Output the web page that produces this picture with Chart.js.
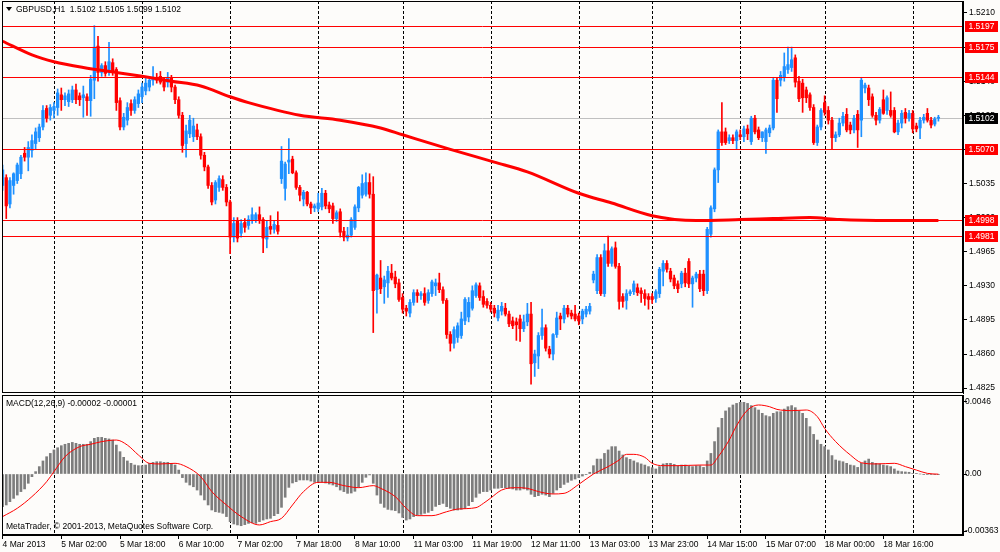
<!DOCTYPE html>
<html>
<head>
<meta charset="utf-8">
<title>GBPUSD,H1</title>
<script src="https://cdn.jsdelivr.net/npm/chart.js@4.4.1/dist/chart.umd.min.js"></script>
<style>
  html, body { margin: 0; padding: 0; background: #fdfcfa; }
  #wrap { position: relative; width: 1000px; height: 552px; background: #fdfcfa; overflow: hidden; }
  canvas { position: absolute; left: 0; }
  #main { top: 0; }
  #macd { top: 394px; }
</style>
</head>
<body>
<div id="wrap">
  <canvas id="main" width="1000" height="394"></canvas>
  <canvas id="macd" width="1000" height="158"></canvas>
</div>
<script>
// H1 candles, [open, high, low, close], bar 0 = 4 Mar 2013 10:00
const candles = [
  [1.5033,1.5054,1.5028,1.5049],[1.5041,1.5044,1.4999,1.5012],[1.5014,1.5041,1.5010,1.5038],[1.5033,1.5046,1.5024,1.5045],
  [1.5038,1.5056,1.5035,1.5054],[1.5045,1.5064,1.5040,1.5062],[1.5066,1.5072,1.5058,1.5062],[1.5062,1.5078,1.5048,1.5072],
  [1.5069,1.5085,1.5062,1.5079],[1.5076,1.5092,1.5070,1.5088],[1.5082,1.5096,1.5078,1.5093],[1.5093,1.5115,1.5090,1.5110],
  [1.5112,1.5115,1.5098,1.5102],[1.5105,1.5116,1.5100,1.5113],[1.5110,1.5118,1.5102,1.5114],[1.5113,1.5132,1.5105,1.5128],
  [1.5126,1.5133,1.5110,1.5121],[1.5121,1.5128,1.5115,1.5125],[1.5119,1.5131,1.5114,1.5127],[1.5121,1.5135,1.5118,1.5131],
  [1.5131,1.5137,1.5117,1.5121],[1.5125,1.5128,1.5115,1.5121],[1.5123,1.5135,1.5103,1.5126],[1.5124,1.5127,1.5105,1.5120],
  [1.5120,1.5146,1.5104,1.5142],[1.5141,1.5197,1.5122,1.5175],[1.5176,1.5186,1.5140,1.5149],[1.5149,1.5158,1.5145,1.5156],
  [1.5156,1.5160,1.5145,1.5148],[1.5149,1.5180,1.5146,1.5160],[1.5159,1.5163,1.5146,1.5150],[1.5152,1.5154,1.5110,1.5118],
  [1.5120,1.5123,1.5090,1.5093],[1.5093,1.5107,1.5090,1.5103],[1.5100,1.5118,1.5095,1.5113],[1.5117,1.5121,1.5105,1.5110],
  [1.5110,1.5124,1.5107,1.5121],[1.5117,1.5131,1.5113,1.5127],[1.5124,1.5138,1.5118,1.5134],[1.5130,1.5144,1.5126,1.5138],
  [1.5134,1.5145,1.5130,1.5141],[1.5141,1.5155,1.5136,1.5144],[1.5144,1.5148,1.5138,1.5141],[1.5145,1.5150,1.5137,1.5139],
  [1.5141,1.5143,1.5130,1.5134],[1.5139,1.5149,1.5134,1.5144],[1.5143,1.5146,1.5129,1.5134],[1.5134,1.5136,1.5117,1.5121],
  [1.5121,1.5124,1.5102,1.5105],[1.5105,1.5108,1.5067,1.5074],[1.5076,1.5095,1.5062,1.5089],[1.5086,1.5105,1.5082,1.5100],
  [1.5083,1.5102,1.5078,1.5094],[1.5090,1.5096,1.5080,1.5083],[1.5083,1.5086,1.5060,1.5064],[1.5064,1.5067,1.5048,1.5052],
  [1.5052,1.5054,1.5030,1.5033],[1.5033,1.5036,1.5013,1.5016],[1.5018,1.5038,1.5014,1.5036],[1.5031,1.5043,1.5027,1.5040],
  [1.5039,1.5043,1.5028,1.5031],[1.5031,1.5034,1.5012,1.5016],[1.5016,1.5018,1.4963,1.4980],[1.4980,1.5000,1.4975,1.4994],
  [1.4997,1.5000,1.4975,1.4979],[1.4984,1.4998,1.4980,1.4994],[1.4995,1.4999,1.4985,1.4990],[1.4992,1.5002,1.4988,1.4998],
  [1.4997,1.5010,1.4994,1.5003],[1.4998,1.5005,1.4995,1.5003],[1.5003,1.5011,1.4994,1.4998],[1.4998,1.5000,1.4964,1.4979],
  [1.4978,1.4997,1.4969,1.4990],[1.4991,1.5002,1.4983,1.4988],[1.4988,1.4997,1.4984,1.4993],[1.4992,1.5006,1.4983,1.4986],
  [1.5040,1.5073,1.5035,1.5058],[1.5030,1.5057,1.5018,1.5055],[1.5057,1.5081,1.5045,1.5059],[1.5060,1.5063,1.5045,1.5046],
  [1.5046,1.5048,1.5029,1.5031],[1.5031,1.5033,1.5017,1.5023],[1.5019,1.5028,1.5012,1.5026],[1.5026,1.5027,1.5012,1.5014],
  [1.5014,1.5016,1.5004,1.5010],[1.5010,1.5014,1.5006,1.5012],[1.5009,1.5025,1.5006,1.5015],[1.5011,1.5030,1.5008,1.5025],
  [1.5025,1.5028,1.5009,1.5012],[1.5013,1.5016,1.5005,1.5009],[1.5012,1.5015,1.4994,1.4999],[1.4999,1.5007,1.4996,1.5005],
  [1.5006,1.5009,1.4980,1.4985],[1.4986,1.4990,1.4976,1.4980],[1.4979,1.4990,1.4976,1.4982],[1.4982,1.5000,1.4980,1.4998],
  [1.4990,1.5013,1.4988,1.5011],[1.5010,1.5032,1.5006,1.5031],[1.5023,1.5044,1.5020,1.5035],[1.5024,1.5046,1.5022,1.5036],
  [1.5036,1.5045,1.5020,1.5024],[1.5024,1.5042,1.4882,1.4925],[1.4926,1.4942,1.4902,1.4941],[1.4938,1.4956,1.4922,1.4927],
  [1.4929,1.4940,1.4912,1.4936],[1.4933,1.4950,1.4918,1.4945],[1.4943,1.4952,1.4936,1.4938],[1.4939,1.4945,1.4928,1.4932],
  [1.4933,1.4937,1.4914,1.4916],[1.4918,1.4922,1.4902,1.4906],[1.4907,1.4910,1.4899,1.4904],[1.4902,1.4916,1.4898,1.4913],
  [1.4913,1.4926,1.4910,1.4923],[1.4923,1.4926,1.4913,1.4920],[1.4920,1.4924,1.4916,1.4922],[1.4922,1.4928,1.4910,1.4913],
  [1.4915,1.4926,1.4912,1.4923],[1.4922,1.4936,1.4919,1.4934],[1.4930,1.4937,1.4920,1.4933],[1.4933,1.4943,1.4923,1.4926],
  [1.4926,1.4929,1.4912,1.4915],[1.4915,1.4917,1.4876,1.4880],[1.4880,1.4883,1.4863,1.4871],[1.4871,1.4888,1.4866,1.4885],
  [1.4877,1.4892,1.4872,1.4889],[1.4879,1.4903,1.4876,1.4896],[1.4894,1.4918,1.4890,1.4916],[1.4898,1.4918,1.4893,1.4913],
  [1.4907,1.4930,1.4905,1.4925],[1.4920,1.4933,1.4918,1.4931],[1.4930,1.4933,1.4915,1.4918],[1.4919,1.4925,1.4908,1.4911],
  [1.4914,1.4917,1.4907,1.4910],[1.4910,1.4913,1.4903,1.4906],[1.4907,1.4910,1.4898,1.4902],[1.4897,1.4910,1.4894,1.4905],
  [1.4904,1.4913,1.4900,1.4909],[1.4907,1.4912,1.4899,1.4901],[1.4901,1.4904,1.4888,1.4891],[1.4894,1.4898,1.4886,1.4889],
  [1.4893,1.4897,1.4874,1.4890],[1.4896,1.4900,1.4873,1.4886],[1.4886,1.4900,1.4883,1.4893],[1.4893,1.4912,1.4889,1.4901],
  [1.4901,1.4913,1.4829,1.4850],[1.4851,1.4864,1.4837,1.4860],[1.4858,1.4882,1.4845,1.4879],[1.4879,1.4906,1.4875,1.4887],
  [1.4887,1.4890,1.4863,1.4866],[1.4865,1.4868,1.4856,1.4860],[1.4860,1.4881,1.4854,1.4880],[1.4880,1.4903,1.4877,1.4897],
  [1.4899,1.4902,1.4885,1.4896],[1.4896,1.4910,1.4892,1.4907],[1.4907,1.4910,1.4898,1.4901],[1.4902,1.4905,1.4896,1.4899],
  [1.4901,1.4910,1.4894,1.4896],[1.4899,1.4902,1.4890,1.4894],[1.4896,1.4906,1.4891,1.4904],[1.4901,1.4909,1.4898,1.4906],
  [1.4904,1.4912,1.4901,1.4909],[1.4936,1.4945,1.4933,1.4942],[1.4925,1.4962,1.4922,1.4959],[1.4959,1.4962,1.4920,1.4922],
  [1.4922,1.4973,1.4919,1.4966],[1.4966,1.4981,1.4950,1.4953],[1.4953,1.4970,1.4950,1.4968],[1.4969,1.4975,1.4948,1.4950],
  [1.4950,1.4953,1.4906,1.4914],[1.4919,1.4922,1.4908,1.4914],[1.4915,1.4926,1.4906,1.4922],[1.4922,1.4926,1.4920,1.4924],
  [1.4924,1.4935,1.4921,1.4932],[1.4928,1.4932,1.4920,1.4923],[1.4925,1.4928,1.4913,1.4922],[1.4922,1.4926,1.4910,1.4917],
  [1.4919,1.4922,1.4906,1.4916],[1.4919,1.4922,1.4912,1.4916],[1.4917,1.4926,1.4913,1.4924],[1.4922,1.4949,1.4918,1.4947],
  [1.4945,1.4956,1.4930,1.4953],[1.4953,1.4956,1.4944,1.4947],[1.4945,1.4948,1.4934,1.4937],[1.4938,1.4941,1.4927,1.4930],
  [1.4932,1.4935,1.4923,1.4927],[1.4932,1.4945,1.4928,1.4943],[1.4943,1.4948,1.4929,1.4933],[1.4955,1.4958,1.4928,1.4932],
  [1.4932,1.4940,1.4908,1.4938],[1.4938,1.4944,1.4934,1.4942],[1.4942,1.4946,1.4924,1.4927],[1.4942,1.4946,1.4920,1.4925],
  [1.4925,1.4990,1.4922,1.4988],[1.4983,1.5012,1.4980,1.5010],[1.5009,1.5051,1.5006,1.5049],[1.5049,1.5090,1.5036,1.5088],
  [1.5088,1.5118,1.5074,1.5077],[1.5088,1.5092,1.5075,1.5077],[1.5079,1.5085,1.5076,1.5082],[1.5082,1.5085,1.5076,1.5079],
  [1.5079,1.5090,1.5070,1.5088],[1.5085,1.5090,1.5080,1.5083],[1.5083,1.5094,1.5078,1.5091],[1.5091,1.5095,1.5080,1.5086],
  [1.5078,1.5104,1.5075,1.5102],[1.5102,1.5105,1.5086,1.5088],[1.5090,1.5093,1.5080,1.5082],[1.5082,1.5088,1.5078,1.5088],
  [1.5078,1.5092,1.5066,1.5090],[1.5087,1.5095,1.5083,1.5092],[1.5092,1.5144,1.5090,1.5141],[1.5141,1.5144,1.5108,1.5122],
  [1.5141,1.5150,1.5135,1.5146],[1.5144,1.5169,1.5140,1.5155],[1.5152,1.5175,1.5148,1.5157],[1.5154,1.5175,1.5150,1.5162],
  [1.5164,1.5167,1.5134,1.5139],[1.5140,1.5145,1.5119,1.5122],[1.5138,1.5142,1.5108,1.5123],[1.5131,1.5134,1.5118,1.5123],
  [1.5126,1.5128,1.5110,1.5113],[1.5113,1.5116,1.5075,1.5077],[1.5077,1.5095,1.5074,1.5093],[1.5093,1.5112,1.5090,1.5110],
  [1.5118,1.5125,1.5105,1.5108],[1.5110,1.5114,1.5096,1.5100],[1.5100,1.5103,1.5070,1.5082],[1.5082,1.5088,1.5078,1.5085],
  [1.5085,1.5102,1.5083,1.5097],[1.5097,1.5108,1.5094,1.5104],[1.5106,1.5112,1.5088,1.5090],[1.5095,1.5098,1.5086,1.5090],
  [1.5090,1.5105,1.5087,1.5102],[1.5106,1.5110,1.5072,1.5090],[1.5100,1.5144,1.5083,1.5141],[1.5133,1.5138,1.5128,1.5136],
  [1.5133,1.5136,1.5115,1.5121],[1.5124,1.5127,1.5103,1.5105],[1.5105,1.5108,1.5095,1.5100],[1.5100,1.5113,1.5097,1.5111],
  [1.5121,1.5131,1.5106,1.5107],[1.5110,1.5125,1.5106,1.5123],[1.5110,1.5129,1.5103,1.5105],[1.5110,1.5113,1.5087,1.5088],
  [1.5088,1.5100,1.5085,1.5097],[1.5097,1.5110,1.5092,1.5107],[1.5108,1.5112,1.5097,1.5102],[1.5102,1.5110,1.5099,1.5107],
  [1.5107,1.5110,1.5087,1.5091],[1.5094,1.5097,1.5088,1.5091],[1.5092,1.5103,1.5081,1.5100],[1.5100,1.5106,1.5097,1.5103],
  [1.5107,1.5112,1.5098,1.5100],[1.5100,1.5103,1.5092,1.5095],[1.5096,1.5103,1.5094,1.5101],[1.5102,1.5105,1.5099,1.5102]
];

// moving average (thick red line), read at these bars
const maBars = [0,8,14,22,31,38,46,54,62,67,81,92,103,109,122,134,143,157,166,177,189,201,210,220,228,242,255];
const maVals = [1.5181,1.5167,1.5160,1.5154,1.5149,1.5145,1.5140,1.5135,1.5124,1.5118,1.5105,1.5100,1.5092,1.5085,
                1.5070,1.5057,1.5047,1.5025,1.5015,1.5002,1.4997,1.4998,1.4999,1.5000,1.4998,1.4997,1.4997];

// MACD(12,26,9) histogram, one value per bar
const macdHist = [
  -0.00208,-0.00197,-0.00176,-0.00155,-0.00134,-0.00112,-0.00095,-0.00059,-0.00017,0.00015,
  0.00047,0.00083,0.00110,0.00131,0.00153,0.00167,0.00180,0.00189,0.00195,0.00201,
  0.00195,0.00189,0.00189,0.00189,0.00206,0.00227,0.00233,0.00233,0.00227,0.00223,
  0.00216,0.00184,0.00142,0.00106,0.00083,0.00068,0.00057,0.00053,0.00053,0.00057,
  0.00068,0.00074,0.00078,0.00078,0.00074,0.00074,0.00068,0.00057,0.00025,-0.00023,
  -0.00053,-0.00070,-0.00081,-0.00102,-0.00134,-0.00165,-0.00197,-0.00229,-0.00240,-0.00244,
  -0.00250,-0.00271,-0.00303,-0.00318,-0.00324,-0.00329,-0.00322,-0.00314,-0.00310,-0.00314,
  -0.00303,-0.00293,-0.00286,-0.00282,-0.00265,-0.00252,-0.00212,-0.00148,-0.00085,-0.00057,
  -0.00049,-0.00038,-0.00038,-0.00038,-0.00045,-0.00053,-0.00053,-0.00051,-0.00057,-0.00064,
  -0.00070,-0.00081,-0.00102,-0.00112,-0.00123,-0.00121,-0.00110,-0.00085,-0.00053,-0.00021,
  -0.00006,-0.00059,-0.00134,-0.00187,-0.00212,-0.00225,-0.00229,-0.00233,-0.00248,-0.00276,
  -0.00293,-0.00286,-0.00271,-0.00261,-0.00257,-0.00250,-0.00244,-0.00233,-0.00206,-0.00195,
  -0.00187,-0.00208,-0.00218,-0.00229,-0.00229,-0.00225,-0.00218,-0.00201,-0.00176,-0.00148,
  -0.00123,-0.00112,-0.00112,-0.00102,-0.00091,-0.00091,-0.00087,-0.00087,-0.00091,-0.00095,
  -0.00102,-0.00102,-0.00095,-0.00102,-0.00129,-0.00144,-0.00138,-0.00129,-0.00134,-0.00144,
  -0.00123,-0.00102,-0.00087,-0.00066,-0.00053,-0.00040,-0.00032,-0.00023,-0.00013,-0.00002,
  0.00011,0.00053,0.00095,0.00095,0.00131,0.00153,0.00174,0.00174,0.00146,0.00121,
  0.00104,0.00093,0.00083,0.00072,0.00064,0.00057,0.00047,0.00040,0.00032,0.00047,
  0.00064,0.00068,0.00068,0.00061,0.00053,0.00057,0.00057,0.00051,0.00047,0.00053,
  0.00053,0.00042,0.00083,0.00131,0.00206,0.00295,0.00354,0.00401,0.00422,0.00439,
  0.00449,0.00456,0.00456,0.00449,0.00435,0.00422,0.00407,0.00386,0.00371,0.00365,
  0.00386,0.00396,0.00396,0.00413,0.00428,0.00435,0.00422,0.00401,0.00386,0.00354,
  0.00301,0.00252,0.00216,0.00189,0.00174,0.00153,0.00117,0.00089,0.00083,0.00078,
  0.00068,0.00057,0.00053,0.00042,0.00068,0.00083,0.00095,0.00074,0.00068,0.00064,
  0.00057,0.00053,0.00047,0.00032,0.00019,0.00015,0.00013,0.00011,0.00004,0.00002,
  0.00000,-0.00002,-0.00004,-0.00004,-0.00004,-0.00002
];

// MACD signal line (red), read at these bars
const signalBars = [0,4,8,12,14,17,21,24,27,31,34,37,40,43,47,50,54,57,61,65,70,73,76,79,82,86,89,93,97,101,
                    103,107,110,113,117,121,124,129,131,133,136,140,143,146,150,153,157,161,165,168,170,172,175,177,180,184,190,193,195,198,
                    200,203,206,209,211,215,219,222,224,227,231,234,238,243,246,249,252,255];
const signalVals = [-0.00271,-0.00218,-0.00144,-0.00049,0.00015,0.00110,0.00174,0.00189,0.00206,0.00216,
                    0.00184,0.00121,0.00068,0.00064,0.00068,0.00047,-0.00017,-0.00112,-0.00197,-0.00271,
                    -0.00324,-0.00303,-0.00282,-0.00197,-0.00112,-0.00053,-0.00053,-0.00074,-0.00087,-0.00074,
                    -0.00091,-0.00144,-0.00218,-0.00265,-0.00265,-0.00240,-0.00223,-0.00214,-0.00187,-0.00153,
                    -0.00102,-0.00087,-0.00091,-0.00112,-0.00127,-0.00123,-0.00066,0.00000,0.00047,0.00089,
                    0.00125,0.00125,0.00106,0.00068,0.00053,0.00053,0.00057,0.00057,0.00110,0.00216,
                    0.00307,0.00407,0.00439,0.00428,0.00411,0.00403,0.00407,0.00365,0.00290,0.00206,
                    0.00121,0.00072,0.00064,0.00068,0.00047,0.00025,0.00004,-0.00001];

// axes
const timeLabelBars = [0,16,32,48,64,80,96,112,128,144,160,176,192,208,224,240];
const timeLabels = ['4 Mar 2013','5 Mar 02:00','5 Mar 18:00','6 Mar 10:00','7 Mar 02:00','7 Mar 18:00','8 Mar 10:00',
                    '11 Mar 03:00','11 Mar 19:00','12 Mar 11:00','13 Mar 03:00','13 Mar 23:00','14 Mar 15:00',
                    '15 Mar 07:00','18 Mar 00:00','18 Mar 16:00'];
const dayStartBars = [14,38,62,86,109,133,157,177,201,224,248];
const priceTicks = [1.4825,1.4860,1.4895,1.4930,1.4965,1.5000,1.5035,1.5070,1.5105,1.5140,1.5175,1.5210];
const macdTicks = [0.0046, 0, -0.00363];
const macdTickLabels = ['0.0046', '0.00', '-0.00363'];

// horizontal levels drawn on the chart, and the bid price
const levels = [1.5197, 1.5175, 1.5144, 1.5070, 1.4998, 1.4981];
const bidPrice = 1.5102;

const BULL = '#1e90ff';
const BEAR = '#ff0000';
const X_MIN = -0.16, X_MAX = 261.7;

function fontExists(name) {
  const c = document.createElement('canvas').getContext('2d');
  const probe = '1.5210 Mar 18:00';
  c.font = '40px monospace';
  const w0 = c.measureText(probe).width;
  c.font = '40px "' + name + '", monospace';
  return c.measureText(probe).width !== w0;
}
const narrow = fontExists('Liberation Sans Narrow');
const FAMILY = narrow ? '"Liberation Sans Narrow", "Liberation Sans", sans-serif' : '"Liberation Sans", Arial, sans-serif';
const FSIZE = narrow ? 10 : 8.5;
const FONT = FSIZE + 'px ' + FAMILY;

Chart.defaults.font.family = FAMILY;
Chart.defaults.font.size = FSIZE;
Chart.defaults.color = '#000';

function drawDayLines(chart) {
  const { ctx, chartArea: a, scales: { x } } = chart;
  ctx.save();
  ctx.strokeStyle = '#000';
  ctx.lineWidth = 1;
  ctx.setLineDash([3, 2]);
  dayStartBars.forEach(b => {
    const px = Math.round(x.getPixelForValue(b)) + 0.5;
    ctx.beginPath();
    ctx.moveTo(px, a.top);
    ctx.lineTo(px, a.bottom);
    ctx.stroke();
  });
  ctx.restore();
}

function drawFrame(chart) {
  const { ctx, chartArea: a } = chart;
  ctx.save();
  ctx.strokeStyle = '#000';
  ctx.lineWidth = 1;
  ctx.strokeRect(a.left + 0.5, a.top + 0.5, a.right - a.left - 1, a.bottom - a.top - 1);
  ctx.restore();
}

function priceBox(ctx, y, value, color) {
  ctx.fillStyle = color;
  ctx.fillRect(965, Math.round(y) - 5, 33, 11);
  ctx.fillStyle = '#fff';
  ctx.textAlign = 'center';
  ctx.textBaseline = 'middle';
  ctx.fillText(value.toFixed(4), 981.5, Math.round(y) + 0.5);
}

// keep the plot area exactly where the panel is: no extra room for end labels
function fixY(s) {
  s.width = 37;
  s.paddingTop = 0;
  s.paddingBottom = 0;
}

const mainDecor = {
  id: 'mainDecor',
  beforeDatasetsDraw(chart) {
    const { ctx, chartArea: a, scales: { y } } = chart;
    drawDayLines(chart);
    ctx.save();
    ctx.strokeStyle = '#c0c0c0';
    ctx.lineWidth = 1;
    const by = Math.round(y.getPixelForValue(bidPrice)) + 0.5;
    ctx.beginPath(); ctx.moveTo(a.left, by); ctx.lineTo(a.right, by); ctx.stroke();
    ctx.restore();
  },
  afterDatasetsDraw(chart) {
    const { ctx, chartArea: a, scales: { y } } = chart;
    ctx.save();
    ctx.strokeStyle = '#ff0000';
    ctx.lineWidth = 1;
    levels.forEach(v => {
      const py = Math.round(y.getPixelForValue(v)) + 0.5;
      ctx.beginPath(); ctx.moveTo(a.left, py); ctx.lineTo(a.right, py); ctx.stroke();
    });
    ctx.restore();
  },
  afterDraw(chart) {
    const { ctx, scales: { y } } = chart;
    drawFrame(chart);
    ctx.save();
    ctx.font = FONT;
    levels.forEach(v => priceBox(ctx, y.getPixelForValue(v), v, '#ff0000'));
    priceBox(ctx, y.getPixelForValue(bidPrice), bidPrice, '#000');

    // header: symbol and last bar OHLC
    const last = candles[candles.length - 1];
    ctx.fillStyle = '#000';
    ctx.beginPath();
    ctx.moveTo(6, 7); ctx.lineTo(12, 7); ctx.lineTo(9, 11); ctx.closePath(); ctx.fill();
    ctx.textAlign = 'left';
    ctx.textBaseline = 'middle';
    ctx.fillText('GBPUSD,H1  ' + last.map(v => v.toFixed(4)).join(' '), 16, 9.5);
    ctx.restore();
  }
};

const macdDecor = {
  id: 'macdDecor',
  beforeDatasetsDraw(chart) {
    drawDayLines(chart);
  },
  afterDraw(chart) {
    const { ctx } = chart;
    drawFrame(chart);
    ctx.save();
    ctx.font = FONT;
    ctx.fillStyle = '#000';
    ctx.textAlign = 'left';
    ctx.textBaseline = 'middle';
    const m = macdHist[macdHist.length - 1], s = signalVals[signalVals.length - 1];
    ctx.fillText('MACD(12,26,9) ' + m.toFixed(5) + ' ' + s.toFixed(5), 6, 10);
    ctx.fillText('MetaTrader, \u00a9 2001-2013, MetaQuotes Software Corp.', 6, 133);
    ctx.restore();
  }
};

const xScaleBase = { type: 'linear', min: X_MIN, max: X_MAX, offset: false, grid: { offset: false } };

new Chart(document.getElementById('main'), {
  type: 'bar',
  data: {
    datasets: [
      {
        type: 'line',
        data: maBars.map((b, k) => ({ x: b, y: maVals[k] })),
        borderColor: '#ff0000',
        borderWidth: 3,
        pointRadius: 0,
        cubicInterpolationMode: 'monotone',
        order: 0
      },
      {
        data: candles.map((c, i) => ({ x: i, y: [c[0], c[3]] })),
        backgroundColor: candles.map(c => c[3] >= c[0] ? BULL : BEAR),
        barThickness: 2.6,
        minBarLength: 1,
        grouped: false,
        order: 1
      },
      {
        data: candles.map((c, i) => ({ x: i, y: [c[2], c[1]] })),
        backgroundColor: candles.map(c => c[3] >= c[0] ? BULL : BEAR),
        barThickness: 1,
        grouped: false,
        order: 2
      }
    ]
  },
  options: {
    responsive: false,
    animation: false,
    events: [],
    layout: { padding: { left: 2, top: 1, bottom: 1, right: 0 } },
    plugins: { legend: { display: false }, tooltip: { enabled: false } },
    scales: {
      x: Object.assign({}, xScaleBase, { display: false }),
      y: {
        position: 'right',
        min: 1.4820,
        max: 1.52223,
        afterBuildTicks: s => { s.ticks = priceTicks.map(v => ({ value: v })); },
        afterFit: fixY,
        ticks: { padding: 2, callback: v => Number(v).toFixed(4), color: '#000' },
        grid: { drawOnChartArea: false, drawTicks: true, tickLength: 4, tickColor: '#000' },
        border: { display: true, color: '#000' }
      }
    }
  },
  plugins: [mainDecor]
});

new Chart(document.getElementById('macd'), {
  type: 'bar',
  data: {
    datasets: [
      {
        type: 'line',
        data: signalBars.map((b, k) => ({ x: b, y: signalVals[k] })),
        borderColor: '#ff0000',
        borderWidth: 1,
        pointRadius: 0,
        cubicInterpolationMode: 'monotone',
        order: 0
      },
      {
        data: macdHist.map((v, i) => ({ x: i, y: v })),
        backgroundColor: '#7d7d7d',
        barThickness: 2,
        grouped: false,
        order: 1
      }
    ]
  },
  options: {
    responsive: false,
    animation: false,
    events: [],
    layout: { padding: { left: 2, top: 1, bottom: 0, right: 0 } },
    plugins: { legend: { display: false }, tooltip: { enabled: false } },
    scales: {
      x: Object.assign({}, xScaleBase, {
        position: 'bottom',
        afterBuildTicks: s => { s.ticks = timeLabelBars.map(v => ({ value: v })); },
        afterFit: s => { s.height = 17; s.paddingLeft = 0; s.paddingRight = 0; },
        ticks: {
          autoSkip: false, maxRotation: 0, minRotation: 0, align: 'start', padding: 1,
          callback: (v, i) => timeLabels[i], color: '#000'
        },
        grid: { offset: false, drawOnChartArea: false, drawTicks: true, tickLength: 4, tickColor: '#000' },
        border: { display: true, color: '#000' }
      }),
      y: {
        position: 'right',
        min: -0.00388,
        max: 0.005025,
        afterBuildTicks: s => { s.ticks = macdTicks.map(v => ({ value: v })); },
        afterFit: fixY,
        ticks: { padding: -2, callback: (v, i) => macdTickLabels[i], color: '#000' },
        grid: { drawOnChartArea: false, drawTicks: true, tickLength: 4, tickColor: '#000' },
        border: { display: true, color: '#000' }
      }
    }
  },
  plugins: [macdDecor]
});
</script>
</body>
</html>
